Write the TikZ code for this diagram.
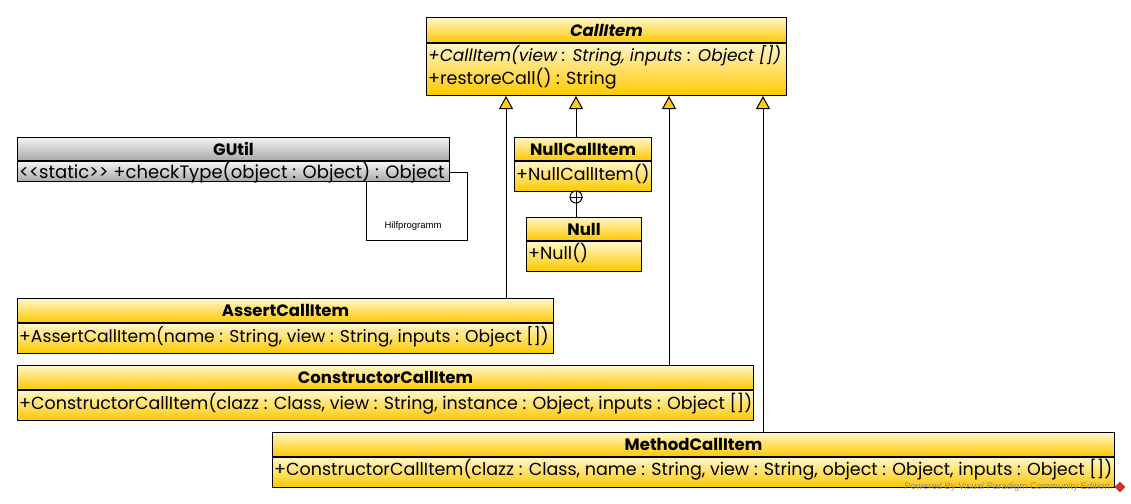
\documentclass[tikz,border=0pt]{standalone}
\usepackage{fontspec}
\setmainfont{Poppins}
\newfontfamily\arialf{Liberation Sans}
\usetikzlibrary{arrows.meta,shapes.geometric}
\definecolor{ytop}{HTML}{FFF6C8}
\definecolor{ybot}{HTML}{FFC800}
\definecolor{gtop}{HTML}{F4F4F4}
\definecolor{gbot}{HTML}{A8A8A8}
\definecolor{trif}{HTML}{FFCC10}
\definecolor{wmred}{HTML}{D03030}
\definecolor{wmgray}{HTML}{909090}
\tikzset{
  box/.style={draw, line width=1pt, rectangle, inner sep=0pt, anchor=north west},
  hd/.style={box, top color=ytop, bottom color=ybot, font=\fontsize{16.5}{18}\selectfont\bfseries},
  bd/.style={box, top color=ytop, bottom color=ybot},
  ghd/.style={box, top color=gtop, bottom color=gbot, font=\fontsize{16.5}{18}\selectfont\bfseries},
  gbd/.style={box, top color=gtop, bottom color=gbot},
  mem/.style={anchor=base west, inner sep=0pt, font=\fontsize{17.5}{20}\selectfont},
  inh/.style={line width=1pt, -{Triangle[width=14pt,length=13pt,fill=trif]}},
  conn/.style={line width=1pt},
}
\begin{document}
\begin{tikzpicture}[x=1pt,y=-1pt]
\useasboundingbox (0,0) rectangle (1131,503);
% note (drawn first, partly hidden by GUtil)
\node[draw, line width=1pt, anchor=north west, minimum width=101, minimum height=68, inner sep=0pt] (note) at (366,172) {};
\node[font=\arialf\fontsize{9.5}{10}\selectfont] (notetext) at (413,226) {Hilfprogramm};
% CallItem
\node[hd, minimum width=360, minimum height=25] (ci) at (426,17) {\itshape CallItem};
\node[bd, minimum width=360, minimum height=52] (cib) at (ci.south west) {};
\node[mem, font=\fontsize{17}{20}\selectfont\itshape] (cim1) at (428,61) {+CallItem(view : String, inputs : Object [])};
\node[mem] (cim2) at (428,84) {+restoreCall() : String};
% GUtil
\node[ghd, minimum width=432, minimum height=23] (gu) at (17,137) {GUtil};
\node[gbd, minimum width=432, minimum height=20] (gub) at (gu.south west) {};
\node[mem, font=\fontsize{18}{20}\selectfont] (gum) at (19,178) {<{}<static>{}> +checkType(object : Object) : Object};
% NullCallItem
\node[hd, minimum width=137, minimum height=23] (nci) at (514,137) {NullCallItem};
\node[bd, minimum width=137, minimum height=30] (ncib) at (nci.south west) {};
\node[mem] (ncim) at (516,180) {+NullCallItem()};
% Null
\node[hd, minimum width=115, minimum height=23] (nul) at (526,217) {Null};
\node[bd, minimum width=115, minimum height=30] (nulb) at (nul.south west) {};
\node[mem] (nulm) at (528,259) {+Null()};
% AssertCallItem
\node[hd, minimum width=536, minimum height=24] (ac) at (17,298) {AssertCallItem};
\node[bd, minimum width=536, minimum height=30] (acb) at (ac.south west) {};
\node[mem, font=\fontsize{17.2}{20}\selectfont] (acm) at (19,342) {+AssertCallItem(name : String, view : String, inputs : Object [])};
% ConstructorCallItem
\node[hd, minimum width=736, minimum height=24] (cc) at (17,365) {ConstructorCallItem};
\node[bd, minimum width=736, minimum height=30] (ccb) at (cc.south west) {};
\node[mem] (ccm) at (19,409) {+ConstructorCallItem(clazz : Class, view : String, instance : Object, inputs : Object [])};
% MethodCallItem
\node[hd, minimum width=842, minimum height=24] (mc) at (272,432) {MethodCallItem};
\node[bd, minimum width=842, minimum height=30] (mcb) at (mc.south west) {};
\node[mem] (mcm) at (274,475) {+ConstructorCallItem(clazz : Class, name : String, view : String, object : Object, inputs : Object [])};
% connector x positions
\coordinate (xa) at (506,0);
\coordinate (xn) at (576,0);
\coordinate (xc) at (669,0);
\coordinate (xm) at (763,0);
\draw[inh] (ac.north -| xa) -- (cib.south -| xa);
\draw[inh] (nci.north -| xn) -- (cib.south -| xn);
\draw[inh] (cc.north -| xc) -- (cib.south -| xc);
\draw[inh] (mc.north -| xm) -- (cib.south -| xm);
% nesting
\node[circle, draw, line width=1pt, minimum size=12pt, inner sep=0pt, fill=white] (nest) at (576,197) {};
\draw[conn] (nest.north) -- (nest.south) (nest.west) -- (nest.east);
\draw[conn] (ncib.south -| nest) -- (nest.north);
\draw[conn] (nest.south) -- (nul.north -| nest);
% watermark
\node[font=\arialf\fontsize{9.5}{10}\selectfont, text=wmgray, anchor=east, inner sep=0pt] (wm) at (1110,487) {Powered By Visual Paradigm Community Edition};
\node[diamond, fill=wmred, minimum size=11pt, inner sep=0pt, shape aspect=1] (wmlogo) at (1120,487) {};
\end{tikzpicture}
\end{document}
